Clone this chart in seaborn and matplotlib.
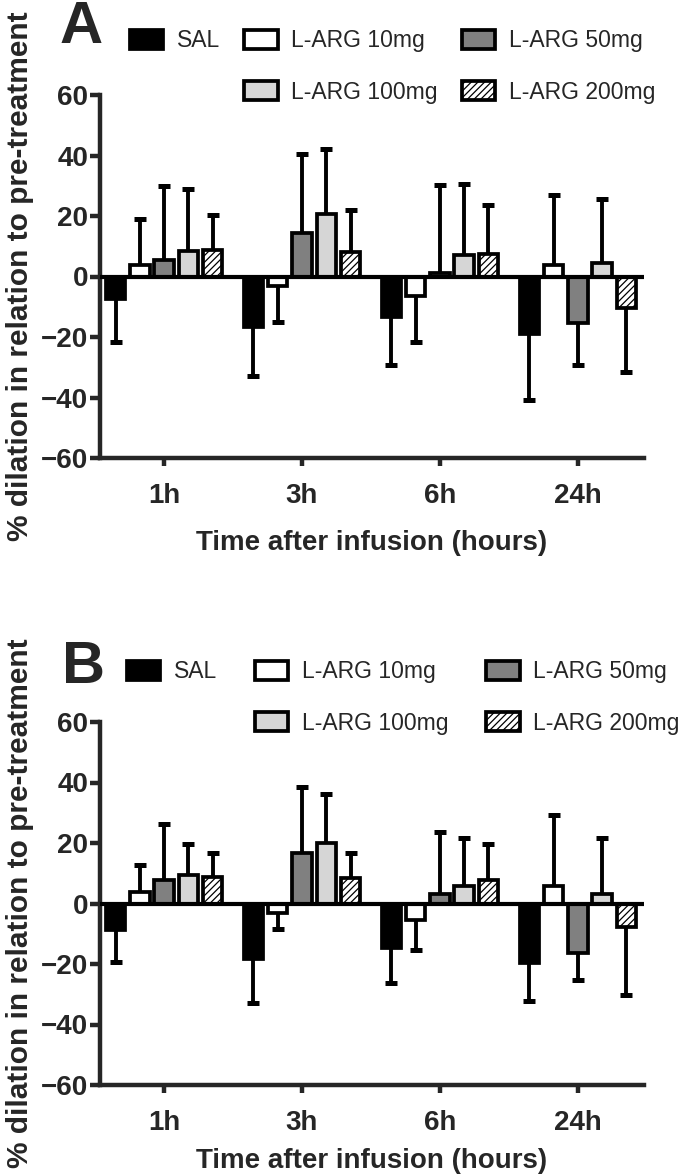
import pandas
import matplotlib
matplotlib.use("Agg")
import matplotlib.pyplot as plt
from matplotlib.patches import Patch
import seaborn as sns

times = ["1h", "3h", "6h", "24h"]
groups = ["SAL", "L-ARG 10mg", "L-ARG 50mg", "L-ARG 100mg", "L-ARG 200mg"]

# panel A: mean and SD per group (1h, 3h, 6h, 24h)
a_sal = [-7.4, -16.6, -13.3, -19.0]
a_10 = [3.9, -3.3, -6.3, 3.9]
a_50 = [5.5, 14.4, 1.2, -15.5]
a_100 = [8.4, 20.6, 7.0, 4.5]
a_200 = [8.6, 8.1, 7.5, -10.5]
a_sal_sd = [14.4, 16.2, 15.9, 21.9]
a_10_sd = [15.2, 11.8, 15.2, 23.0]
a_50_sd = [24.3, 26.0, 29.2, 13.7]
a_100_sd = [20.4, 21.5, 23.7, 21.2]
a_200_sd = [11.6, 13.8, 16.0, 21.0]

# panel B
b_sal = [-8.6, -18.2, -14.6, -19.6]
b_10 = [3.9, -3.1, -5.5, 5.7]
b_50 = [7.7, 16.8, 3.1, -16.5]
b_100 = [9.4, 20.0, 5.8, 3.1]
b_200 = [8.8, 8.5, 7.7, -7.9]
b_sal_sd = [10.7, 14.6, 11.8, 12.7]
b_10_sd = [8.8, 5.2, 9.9, 23.7]
b_50_sd = [18.5, 21.7, 20.6, 8.8]
b_100_sd = [10.4, 16.3, 16.0, 18.4]
b_200_sd = [7.9, 8.2, 12.1, 22.4]

colors = {"SAL": "black", "L-ARG 10mg": "white", "L-ARG 50mg": "#808080",
          "L-ARG 100mg": "#d6d6d6", "L-ARG 200mg": "white"}
HATCH = "/////"
EDGE = 2.7

sns.set_style("ticks")
plt.rcParams["font.family"] = ["Liberation Sans", "DejaVu Sans"]
plt.rcParams["hatch.linewidth"] = 0.9
plt.rcParams["hatch.color"] = "#444444"

W, H = 685, 1176


def make_df(means):
    rows = []
    for g, vals in zip(groups, means):
        for t, v in zip(times, vals):
            rows.append({"time": t, "group": g, "value": v})
    return pandas.DataFrame(rows)


def draw_panel(fig, rect, means, sds, letter, letter_xy, legend_xy, colspace, xlabel_y):
    ax = fig.add_axes(rect)
    df = make_df(means)
    sns.barplot(data=df, x="time", y="value", hue="group", order=times, hue_order=groups,
                palette=colors, saturation=1, width=0.88, gap=0.2, errorbar=None,
                edgecolor="black", linewidth=EDGE, legend=False, ax=ax)

    # one-sided SD bars, pointing away from zero
    for bars, g, sd in zip(ax.containers, groups, sds):
        if g == "L-ARG 200mg":
            for b in bars:
                b.set_hatch(HATCH)
        xs = [b.get_x() + b.get_width() / 2 for b in bars]
        vals = [b.get_y() + b.get_height() for b in bars]
        lo = [s if v < 0 else 0 for v, s in zip(vals, sd)]
        hi = [s if v >= 0 else 0 for v, s in zip(vals, sd)]
        ends = [v - s if v < 0 else v + s for v, s in zip(vals, sd)]
        ax.errorbar(xs, vals, yerr=[lo, hi], fmt="none", ecolor="black",
                    elinewidth=2.8, capsize=0, zorder=0.8)
        ax.plot(xs, ends, ls="none", marker="_", ms=8.5, mew=3.6, color="black", zorder=0.8)

    ax.axhline(0, color="black", lw=3, zorder=3)
    ax.set_ylim(-60, 60)
    ax.set_xlim(-0.465, 3.48)
    ax.set_yticks(range(-60, 61, 20))
    ax.spines[["top", "right"]].set_visible(False)
    for s in ["left", "bottom"]:
        ax.spines[s].set_linewidth(3.2)
    ax.tick_params(axis="y", width=3.2, length=7.5, pad=1, labelsize=20)
    ax.tick_params(axis="x", width=3.2, length=6, pad=12, labelsize=20)
    for lab in ax.get_xticklabels() + ax.get_yticklabels():
        lab.set_fontweight("bold")

    ax.set_ylabel("% dilation in relation to pre-treatment", fontsize=21.5, fontweight="bold")
    ax.yaxis.set_label_coords(-0.121, 0.5)
    ax.set_xlabel("Time after infusion (hours)", fontsize=20, fontweight="bold")
    ax.xaxis.set_label_coords(0.5, xlabel_y)

    fig.text(letter_xy[0] / W, 1 - letter_xy[1] / H, letter, fontsize=43,
             fontweight="bold", ha="left", va="top")

    # legend: 3 columns, first column only has SAL
    hd = {g: Patch(facecolor=colors[g], edgecolor="black", linewidth=EDGE,
                   hatch=HATCH if g == "L-ARG 200mg" else None) for g in groups}
    blank = Patch(facecolor="none", edgecolor="none")
    handles = [hd["SAL"], blank, hd["L-ARG 10mg"], hd["L-ARG 100mg"],
               hd["L-ARG 50mg"], hd["L-ARG 200mg"]]
    labels = ["SAL", "", "L-ARG 10mg", "L-ARG 100mg", "L-ARG 50mg", "L-ARG 200mg"]
    ax.legend(handles, labels, ncol=3, loc="upper left",
              bbox_to_anchor=(legend_xy[0] / W, 1 - legend_xy[1] / H),
              bbox_transform=fig.transFigure, frameon=False, fontsize=16.5,
              handlelength=1.45, handleheight=0.9, handletextpad=0.6,
              columnspacing=colspace, labelspacing=1.25, borderpad=0, borderaxespad=0)
    return ax


fig = plt.figure(figsize=(W / 100, H / 100), dpi=100)

draw_panel(fig, [100 / W, 1 - 458 / H, 544 / W, 363 / H],
           [a_sal, a_10, a_50, a_100, a_200],
           [a_sal_sd, a_10_sd, a_50_sd, a_100_sd, a_200_sd],
           "A", (60, 0), (130, 29), 1.05, -0.198)
draw_panel(fig, [100 / W, 1 - 1085 / H, 544 / W, 363 / H],
           [b_sal, b_10, b_50, b_100, b_200],
           [b_sal_sd, b_10_sd, b_50_sd, b_100_sd, b_200_sd],
           "B", (62, 640), (127, 660), 1.65, -0.174)

fig.savefig("out.png", dpi=100)
